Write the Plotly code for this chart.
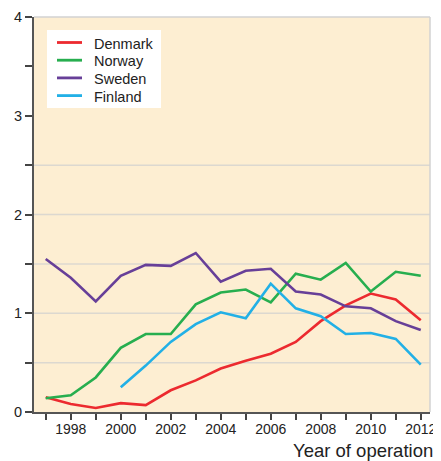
import plotly.graph_objects as go

years = list(range(1997, 2013))
finland_years = list(range(2000, 2013))

denmark = [0.15, 0.08, 0.04, 0.09, 0.07, 0.22, 0.32, 0.44, 0.52, 0.59, 0.71, 0.92, 1.08, 1.20, 1.14, 0.93]
norway = [0.14, 0.17, 0.35, 0.65, 0.79, 0.79, 1.09, 1.21, 1.24, 1.11, 1.40, 1.34, 1.51, 1.22, 1.42, 1.38]
sweden = [1.55, 1.36, 1.12, 1.38, 1.49, 1.48, 1.61, 1.32, 1.43, 1.45, 1.22, 1.19, 1.07, 1.05, 0.92, 0.83]
finland = [0.25, 0.47, 0.71, 0.89, 1.01, 0.95, 1.30, 1.05, 0.97, 0.79, 0.80, 0.74, 0.48]

series_names = ["Denmark", "Norway", "Sweden", "Finland"]
series_colors = ["#ec2a2f", "#27ae4f", "#673f98", "#22b0e6"]

x_tick_vals = list(range(1997, 2013))
x_tick_text = [str(y) if y % 2 == 0 else "" for y in x_tick_vals]
y_tick_vals = [0, 1, 2, 3, 4]
grid_levels = [0.5, 1, 1.5, 2, 2.5]
x_title = "Year of operation"

FONT = "Liberation Sans, Arial, sans-serif"

fig = go.Figure()
for name, color, xs, ys in zip(series_names, series_colors,
                               [years, years, years, finland_years],
                               [denmark, norway, sweden, finland]):
    fig.add_trace(go.Scatter(x=xs, y=ys, mode="lines", name=name,
                             line=dict(color=color, width=2.6), showlegend=False))

shapes = []
for g in grid_levels:
    shapes.append(dict(type="line", xref="paper", yref="y", x0=0, x1=1, y0=g, y1=g,
                       line=dict(color="#dcd8d0", width=1.5), layer="below"))
shapes.append(dict(type="line", xref="paper", yref="paper", x0=0, x1=1, y0=1, y1=1,
                   line=dict(color="#d2d2d2", width=1.5)))
shapes.append(dict(type="line", xref="paper", yref="paper", x0=1, x1=1, y0=0, y1=1,
                   line=dict(color="#d2d2d2", width=1.5)))

# legend box (manual, to match tight line spacing)
PW, PH = 396.0, 395.0
def px(sx):
    return (sx - 34) / PW
def py(sy):
    return (412 - sy) / PH

shapes.append(dict(type="rect", xref="paper", yref="paper", x0=px(47), x1=px(161),
                   y0=py(108), y1=py(30), fillcolor="white", line=dict(width=0)))
annotations = []
for i, (name, color) in enumerate(zip(series_names, series_colors)):
    ly = 42.5 + i * 17.7
    shapes.append(dict(type="line", xref="paper", yref="paper", x0=px(57), x1=px(82),
                       y0=py(ly), y1=py(ly), line=dict(color=color, width=2.8)))
    annotations.append(dict(text=name, xref="paper", yref="paper", x=px(92), y=py(ly + 1),
                            xanchor="left", yanchor="middle", showarrow=False,
                            font=dict(family=FONT, size=14.5, color="#222")))

annotations.append(dict(text=x_title, xref="paper", yref="paper", x=px(435), y=py(450),
                        xanchor="right", yanchor="middle", showarrow=False,
                        font=dict(family=FONT, size=18.5, color="#222")))

fig.update_layout(
    width=433, height=453,
    margin=dict(l=26, r=11, t=9, b=49),
    paper_bgcolor="white", plot_bgcolor="#fdeed2",
    font=dict(family=FONT, size=14, color="#222"),
    shapes=shapes,
    annotations=annotations,
    showlegend=False,
    xaxis=dict(range=[1996.53, 2012.37], tickvals=x_tick_vals, ticktext=x_tick_text,
               ticks="outside", ticklen=6, tickcolor="#444", tickwidth=1.5,
               showline=True, linecolor="#555", linewidth=2, showgrid=False, zeroline=False,
               automargin=False, ticklabelstandoff=-3, tickfont=dict(size=14, color="#222")),
    yaxis=dict(range=[0, 4], tickvals=y_tick_vals, ticks="outside", ticklen=7,
               tickcolor="#444", tickwidth=1.5, showline=True, linecolor="#555", linewidth=2,
               showgrid=False, zeroline=False, automargin=False,
               tickfont=dict(size=14.5, color="#222"),
               minor=dict(dtick=0.5, ticks="outside", ticklen=7, tickcolor="#444", tickwidth=1.5,
                          showgrid=False)),
)

fig.write_html("out.html")
